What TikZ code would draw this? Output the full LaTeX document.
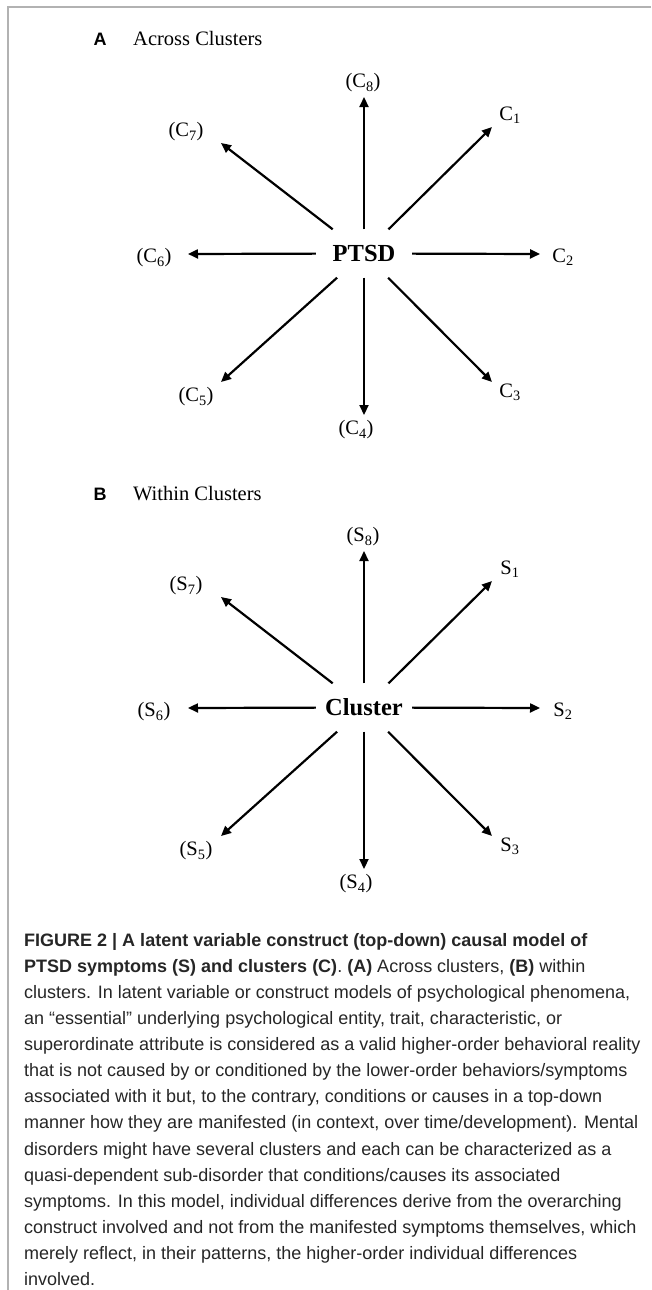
\documentclass[tikz,border=0pt]{standalone}
\usepackage{fontspec}
\setmainfont{Liberation Serif}
\setsansfont{Liberation Sans}
\usetikzlibrary{arrows.meta}

\begin{document}
\begin{tikzpicture}[x=1pt,y=-1pt,>={Triangle[length=10pt,width=9pt]},
    hubnode/.style={font=\fontsize{24.5}{28}\selectfont\bfseries,
      minimum width=96pt,minimum height=48pt,inner sep=0pt},
    spokelabel/.style={font=\fontsize{20.5}{24}\selectfont,inner sep=0pt},
    spoke/.style={->,line width=2.2pt},
    paneltag/.style={font=\sffamily\bfseries\fontsize{18}{22}\selectfont,
      anchor=base,inner sep=0pt},
    paneltitle/.style={font=\fontsize{20.5}{24}\selectfont,
      anchor=base west,inner sep=0pt}]
  \useasboundingbox (0,0) rectangle (651,1290);
  \draw[gray!60,line width=1.4pt] (651,7) -- (8,7) -- (8,1290);

  % panel A, and panel B shifted down
  \foreach \pfx/\yoff/\tg/\ttl/\hubtxt/\lt in
      {a/0/A/Across Clusters/PTSD/C, b/454/B/Within Clusters/Cluster/S} {
    \begin{scope}[yshift=-\yoff pt]
      \node[paneltag] (tag\pfx) at (100,46) {\tg};
      \node[paneltitle] (title\pfx) at (133,46) {\ttl};
      \node[hubnode] (hub\pfx) at (364,253.5) {\hubtxt};
      \foreach \n/\lx/\ly/\tx/\ty/\txt in
          {1/510/115/492/127/{\lt\textsubscript{1}},
           2/563/257/540/254/{\lt\textsubscript{2}},
           3/510/392/492/382/{\lt\textsubscript{3}},
           4/356/430/364/415/{(\lt\textsubscript{4})},
           5/196/397/221/382/{(\lt\textsubscript{5})},
           6/154/258/188/254/{(\lt\textsubscript{6})},
           7/186/132/221/143/{(\lt\textsubscript{7})},
           8/363/83/364/97/{(\lt\textsubscript{8})}} {
        \node[spokelabel] (\pfx\n) at (\lx,\ly) {\txt};
        \coordinate (tip\pfx\n) at (\tx,\ty);
        \draw[spoke] (hub\pfx) -- (tip\pfx\n);
      }
    \end{scope}
  }

  \node[anchor=north west,inner sep=0pt,align=left,text=black!85,
    font=\sffamily\fontsize{18}{26.1}\selectfont] (capt) at (24,933)
    {\textbf{FIGURE 2 | A latent variable construct (top-down) causal model of}\\
     \textbf{PTSD symptoms (S) and clusters (C)}. \textbf{(A)} Across clusters, \textbf{(B)} within\\
     clusters. In latent variable or construct models of psychological phenomena,\\
     an “essential” underlying psychological entity, trait, characteristic, or\\
     superordinate attribute is considered as a valid higher-order behavioral reality\\
     that is not caused by or conditioned by the lower-order behaviors/symptoms\\
     associated with it but, to the contrary, conditions or causes in a top-down\\
     manner how they are manifested (in context, over time/development). Mental\\
     disorders might have several clusters and each can be characterized as a\\
     quasi-dependent sub-disorder that conditions/causes its associated\\
     symptoms. In this model, individual differences derive from the overarching\\
     construct involved and not from the manifested symptoms themselves, which\\
     merely reflect, in their patterns, the higher-order individual differences\\
     involved.};
\end{tikzpicture}
\end{document}
